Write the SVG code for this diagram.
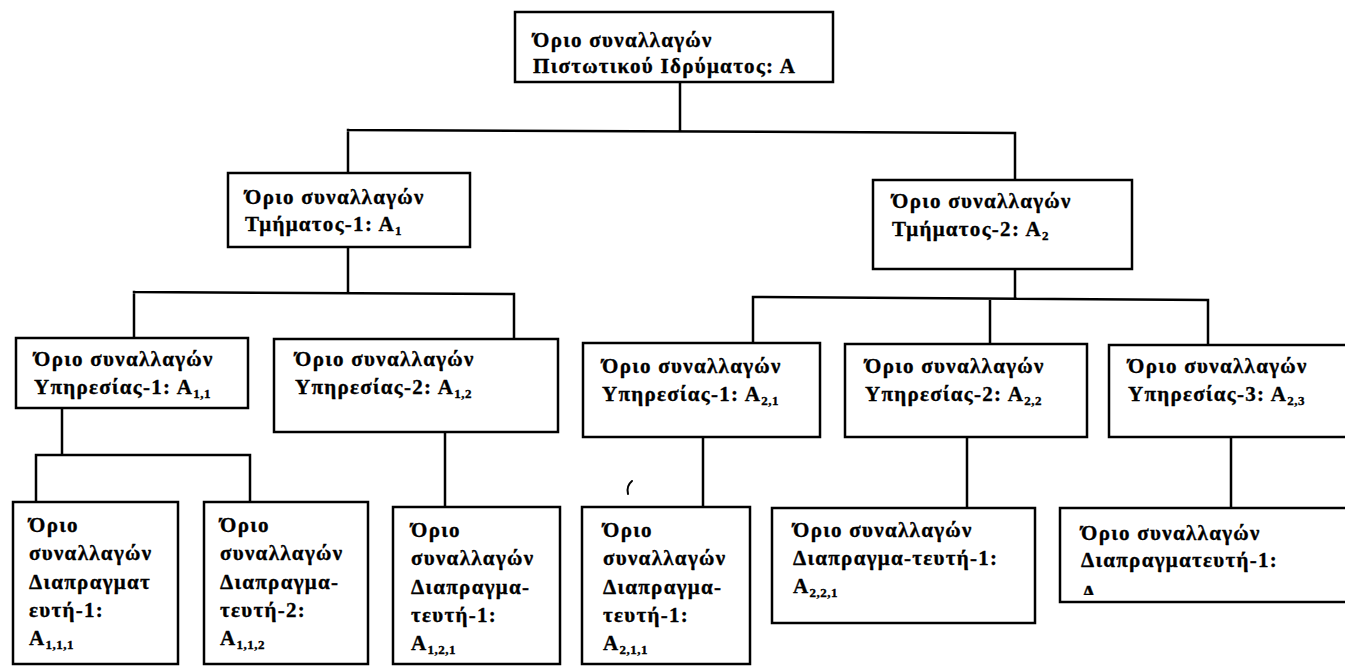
<svg xmlns="http://www.w3.org/2000/svg" width="1345" height="666" viewBox="0 0 1345 666">
  <defs>
    <style>
      .box { fill: #ffffff; stroke: #000000; stroke-width: 2.5; }
      .wire { fill: none; stroke: #000000; stroke-width: 2.5; stroke-linecap: square; }
      .speck { fill: none; stroke: #000000; stroke-width: 2; stroke-linecap: round; }
      text { font-family: "Liberation Serif", "Times New Roman", serif; font-weight: bold; font-size: 21px; letter-spacing: 1.3px; fill: #000000; stroke: #000000; stroke-width: 0.35px; }
      .sub { font-size: 13px; letter-spacing: 0.5px; }
    </style>
    <clipPath id="clipLastLine">
      <rect x="1060" y="508" width="285" height="87"/>
    </clipPath>
  </defs>
  <rect width="1345" height="666" fill="#ffffff"/>

  <!-- connectors -->
  <g id="connectors">
    <path class="wire" d="M680 82 V131 M348 130 L1015 133 M348 130 V173 M1015 133 V180"/>
    <path class="wire" d="M348 247 V293 M134 292 L514 294 M134 292 V338 M514 294 V339"/>
    <path class="wire" d="M1015 269 V298 M753 297 L1208 300 M753 297 V343 M990 299 V344 M1208 300 V345"/>
    <path class="wire" d="M62 408 V455 M36 455 H250 M36 455 V502 M250 455 V502"/>
    <path class="wire" d="M445 432 V507 M703 437 V507 M967 437 V508 M1231 437 V508"/>
  </g>

  <!-- small pen mark left on the sheet -->
  <path class="speck" d="M632 481 Q626 486 628 494"/>

  <!-- level 1 -->
  <g id="node-bank">
    <rect class="box" x="515" y="12" width="318" height="70"/>
    <text x="533" y="47">Όριο συναλλαγών</text>
    <text x="533" y="73">Πιστωτικού Ιδρύματος: Α</text>
  </g>

  <!-- level 2 -->
  <g id="node-dept-1">
    <rect class="box" x="228" y="173" width="242" height="74"/>
    <text x="245" y="204">Όριο συναλλαγών</text>
    <text x="245" y="231">Τμήματος-1: Α<tspan class="sub" dy="4">1</tspan></text>
  </g>
  <g id="node-dept-2">
    <rect class="box" x="873" y="180" width="259" height="89"/>
    <text x="892" y="208">Όριο συναλλαγών</text>
    <text x="892" y="236">Τμήματος-2: Α<tspan class="sub" dy="4">2</tspan></text>
  </g>

  <!-- level 3 -->
  <g id="node-svc-1-1">
    <rect class="box" x="16" y="338" width="232" height="70"/>
    <text x="34" y="366">Όριο συναλλαγών</text>
    <text x="34" y="394">Υπηρεσίας-1: Α<tspan class="sub" dy="4">1,1</tspan></text>
  </g>
  <g id="node-svc-1-2">
    <rect class="box" x="274" y="339" width="284" height="93"/>
    <text x="295" y="366">Όριο συναλλαγών</text>
    <text x="295" y="394">Υπηρεσίας-2: Α<tspan class="sub" dy="4">1,2</tspan></text>
  </g>
  <g id="node-svc-2-1">
    <rect class="box" x="583" y="343" width="237" height="94"/>
    <text x="602" y="373">Όριο συναλλαγών</text>
    <text x="602" y="401">Υπηρεσίας-1: Α<tspan class="sub" dy="4">2,1</tspan></text>
  </g>
  <g id="node-svc-2-2">
    <rect class="box" x="845" y="344" width="242" height="93"/>
    <text x="865" y="373">Όριο συναλλαγών</text>
    <text x="865" y="401">Υπηρεσίας-2: Α<tspan class="sub" dy="4">2,2</tspan></text>
  </g>
  <g id="node-svc-2-3">
    <rect class="box" x="1109" y="345" width="240" height="92"/>
    <text x="1128" y="373">Όριο συναλλαγών</text>
    <text x="1128" y="401">Υπηρεσίας-3: Α<tspan class="sub" dy="4">2,3</tspan></text>
  </g>

  <!-- level 4 -->
  <g id="node-dealer-1-1-1">
    <rect class="box" x="13" y="502" width="165" height="162"/>
    <text x="29" y="532">Όριο</text>
    <text x="29" y="560">συναλλαγών</text>
    <text x="29" y="589">Διαπραγματ</text>
    <text x="29" y="617">ευτή-1:</text>
    <text x="29" y="645">Α<tspan class="sub" dy="4">1,1,1</tspan></text>
  </g>
  <g id="node-dealer-1-1-2">
    <rect class="box" x="204" y="502" width="164" height="162"/>
    <text x="220" y="532">Όριο</text>
    <text x="220" y="560">συναλλαγών</text>
    <text x="220" y="589">Διαπραγμα-</text>
    <text x="220" y="617">τευτή-2:</text>
    <text x="220" y="645">Α<tspan class="sub" dy="4">1,1,2</tspan></text>
  </g>
  <g id="node-dealer-1-2-1">
    <rect class="box" x="393" y="507" width="167" height="157"/>
    <text x="411" y="537">Όριο</text>
    <text x="411" y="565">συναλλαγών</text>
    <text x="411" y="594">Διαπραγμα-</text>
    <text x="411" y="622">τευτή-1:</text>
    <text x="411" y="650">Α<tspan class="sub" dy="4">1,2,1</tspan></text>
  </g>
  <g id="node-dealer-2-1-1">
    <rect class="box" x="582" y="507" width="168" height="157"/>
    <text x="603" y="537">Όριο</text>
    <text x="603" y="565">συναλλαγών</text>
    <text x="603" y="594">Διαπραγμα-</text>
    <text x="603" y="622">τευτή-1:</text>
    <text x="603" y="650">Α<tspan class="sub" dy="4">2,1,1</tspan></text>
  </g>
  <g id="node-dealer-2-2-1">
    <rect class="box" x="772" y="508" width="263" height="115"/>
    <text x="793" y="537">Όριο συναλλαγών</text>
    <text x="793" y="565">Διαπραγμα-τευτή-1:</text>
    <text x="793" y="593">Α<tspan class="sub" dy="4">2,2,1</tspan></text>
  </g>
  <g id="node-dealer-2-3-1">
    <rect class="box" x="1060" y="508" width="290" height="94"/>
    <text x="1081" y="540">Όριο συναλλαγών</text>
    <text x="1081" y="567">Διαπραγματευτή-1:</text>
    <text x="1081" y="600" clip-path="url(#clipLastLine)">Α<tspan class="sub" dy="4">2,3,1</tspan></text>
  </g>
</svg>
